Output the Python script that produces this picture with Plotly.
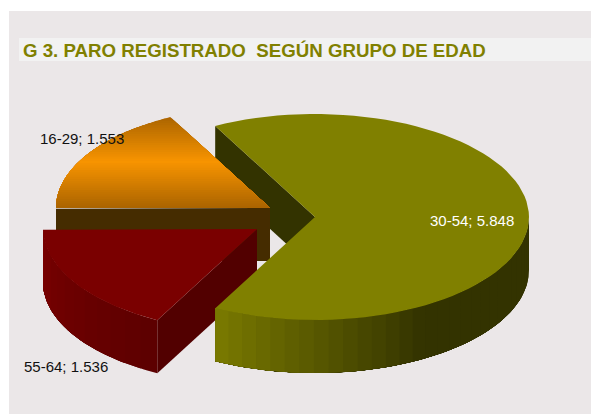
import math
import plotly.graph_objects as go

categories = ["30-54", "55-64", "16-29"]
values = [5848, 1536, 1553]
value_labels = ["5.848", "1.536", "1.553"]
title_text = "G 3. PARO REGISTRADO  SEGÚN GRUPO DE EDAD"

A, B, D = 214, 103, 53
START = -27.8
apexes = [(315, 217), (257, 229), (270, 208)]

total = sum(values)
angles = []
t = START
for v in values:
    angles.append((t, t + v / total * 360))
    t += v / total * 360


def pt(apex, ang, dy=0):
    r = math.radians(ang)
    return apex[0] + A * math.sin(r), apex[1] - B * math.cos(r) + dy


def arc(apex, t0, t1, dy=0, n=80):
    return [pt(apex, t0 + (t1 - t0) * i / n, dy) for i in range(n + 1)]


def mix(c0, c1, f):
    f = max(0, min(1, f))
    return "rgb(%d,%d,%d)" % tuple(round(a + (b - a) * f) for a, b in zip(c0, c1))


fig = go.Figure()


def poly(points, color, lw=0.0):
    xs = [p[0] for p in points] + [points[0][0]]
    ys = [p[1] for p in points] + [points[0][1]]
    fig.add_trace(go.Scatter(x=xs, y=ys, mode="lines", fill="toself", fillcolor=color,
                             line=dict(color=color, width=lw), hoverinfo="skip", showlegend=False))


def wedge(apex, t0, t1):
    return [apex] + arc(apex, t0, t1)


def side_strips(apex, t0, t1, colorfn, n=20):
    # painted back to front, each strip running on to the far end so no seams show
    for i in range(n):
        a0 = t0 + (t1 - t0) * i / n
        a1 = t0 + (t1 - t0) * (i + 1) / n
        pts = arc(apex, a0, t1, 0, 60) + arc(apex, t1, a0, D, 60)
        poly(pts, colorfn((a0 + a1) / 2))


olive_a, red_a, orange_a = apexes
(ol0, ol1), (re0, re1), (or0, or1) = angles

# olive cut face, behind everything
e = pt(olive_a, ol0)
poly([olive_a, e, (e[0], e[1] + D), (olive_a[0], olive_a[1] + D)], "#333300")

# orange: cut face then gradient top
left = pt(orange_a, or0)
poly([orange_a, (orange_a[0], orange_a[1] + D), (left[0], left[1] + D), left], "#452c00")

top_y = orange_a[1] - B
tip = pt(orange_a, or1)
GRAD_DARK_TOP = (150, 88, 0)
GRAD_MID = (248, 148, 0)
GRAD_DARK_BOT = (170, 100, 0)
bands = 46
r1 = math.radians(or1)
slope = (A * math.sin(r1)) / (-B * math.cos(r1))


def orange_span(y):
    dy = y - orange_a[1]
    lx = orange_a[0] - A * math.sqrt(max(0, 1 - (dy / B) ** 2))
    rx = orange_a[0] + dy * slope
    return lx, rx


# the arc of this slice only reaches the height of its upper tip
for i in range(bands):
    ya = top_y + (orange_a[1] - top_y) * i / bands
    yb = top_y + (orange_a[1] - top_y) * (i + 1) / bands
    if yb <= tip[1]:
        continue
    ya = max(ya, tip[1])
    ptsl, ptsr = [], []
    for k in range(9):
        y = ya + (orange_a[1] - ya) * k / 8
        lx, rx = orange_span(y)
        ptsl.append((lx, y))
        ptsr.append((rx, y))
    ymid = (ya + yb) / 2
    f = (ymid - top_y) / (orange_a[1] - top_y)
    col = mix(GRAD_DARK_TOP, GRAD_MID, f / 0.55) if f < 0.55 else mix(GRAD_MID, GRAD_DARK_BOT, (f - 0.55) / 0.45)
    poly(ptsl + ptsr[::-1], col)

# red: cut face, outer side, top
e = pt(red_a, re0)
poly([red_a, e, (e[0], e[1] + D), (red_a[0], red_a[1] + D)], "#520000")
side_strips(red_a, re0, re1, lambda a: mix((92, 0, 0), (122, 0, 0), (a - re0) / (re1 - re0)), n=12)
poly(wedge(red_a, re0, re1), "#7a0000")

# olive: outer side and top
side_strips(olive_a, 90, ol1,
            lambda a: mix((51, 51, 0), (122, 122, 0), (a - 150) / (ol1 - 150)), n=30)
poly(wedge(olive_a, ol0, ol1), "#808000")

label_pos = [(472, 220), (66, 366), (82, 138)]
label_col = ["white", "#111111", "#111111"]
annotations = [
    dict(x=x, y=y, xref="x", yref="y", text=f"{c}; {v}", showarrow=False,
         font=dict(family="Liberation Sans", size=15, color=col))
    for (x, y), c, v, col in zip(label_pos, categories, value_labels, label_col)
]
annotations.append(dict(x=21, y=50, xref="x", yref="y", text=f"<b>{title_text}</b>", showarrow=False,
                        xanchor="left", font=dict(family="Liberation Sans", size=18.7, color="#808000")))

fig.update_layout(
    width=591, height=414, margin=dict(l=0, r=0, t=0, b=0), autosize=False,
    paper_bgcolor="white", plot_bgcolor="white", showlegend=False,
    xaxis=dict(range=[0, 591], visible=False, fixedrange=True),
    yaxis=dict(range=[414, 0], visible=False, fixedrange=True),
    shapes=[
        dict(type="rect", xref="x", yref="y", x0=9, x1=591, y0=11, y1=414,
             fillcolor="#ebe7e8", line_width=0, layer="below"),
        dict(type="rect", xref="x", yref="y", x0=19, x1=591, y0=38, y1=61,
             fillcolor="#f2f2f2", line_width=0, layer="below"),
    ],
    annotations=annotations,
)
fig.write_html("out.html", config=dict(displayModeBar=False),
               post_script="document.body.style.margin='0';document.body.style.overflow='hidden';")
